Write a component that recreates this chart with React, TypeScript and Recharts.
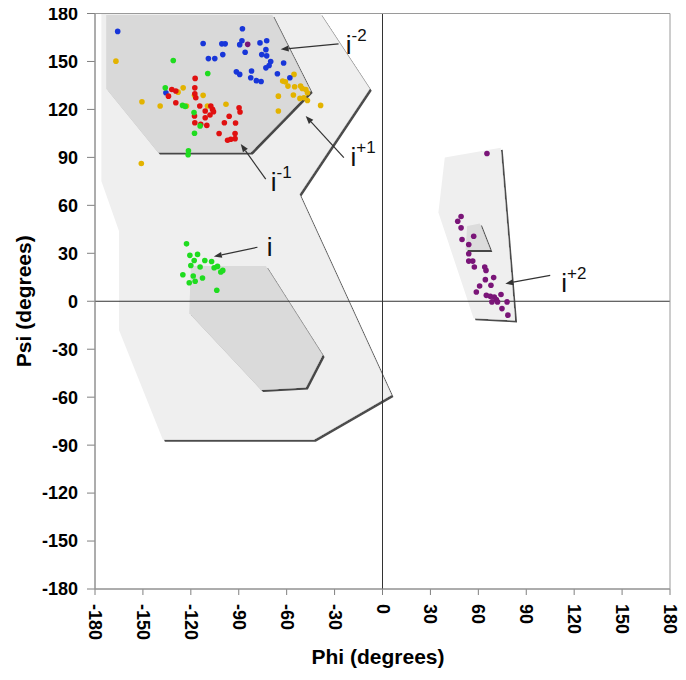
import React from 'react';
import { ScatterChart, Scatter, XAxis, YAxis, ReferenceLine, ReferenceArea, ReferenceDot, Label } from 'recharts';

// ---------- axis ticks ----------
const phiTicks = [-180, -150, -120, -90, -60, -30, 0, 30, 60, 90, 120, 150, 180];
const psiTicks = [-180, -150, -120, -90, -60, -30, 0, 30, 60, 90, 120, 150, 180];

// ---------- allowed regions (phi, psi vertices) ----------
const regionLightLeft = [[-176, 180], [-39, 180], [-8, 133], [-52, 67], [5.6, -58.6], [-43, -86.6], [-137.5, -86.6], [-165, -18], [-165, 44], [-176, 75]];
const regionLightRight = [[39, 90], [74, 96], [83, -12], [57, -10.6], [35, 55.5]];
const regionDarkBeta = [[-173, 179], [-69, 179], [-45, 131.5], [-82.5, 93], [-140.6, 93], [-173, 133]];
const regionDarkAlpha = [[-120, 22], [-73, 22], [-37.5, -33.6], [-48, -54], [-76, -55.5], [-121, -7.5]];
const regionDarkLeftHanded = [[53, 47], [61, 48.6], [67.5, 32], [52, 32]];

// ---------- residue points (phi, psi) ----------
const residueMinus2 = [[-165.8, 168.8], [-112.3, 161.2], [-100.6, 161], [-98.5, 161], [-87.7, 170.5], [-89.4, 160.5], [-88, 163], [-76.7, 161.6], [-72.5, 163], [-86, 155.8], [-75.6, 154.3], [-73, 157.4], [-72.5, 153.5], [-109, 151.8], [-105, 151.8], [-100, 154.3], [-70, 150], [-71, 147.5], [-73, 146], [-61.9, 149], [-91.5, 143.5], [-89.4, 141.9], [-82, 144], [-82.5, 139.8], [-79, 138], [-76, 137.5], [-65.8, 142.3], [-58, 139.8], [-135.6, 130.4]];
const residueMinus1 = [[-117.3, 139.4], [-131.9, 132.5], [-129.4, 131.5], [-134, 128.3], [-129.4, 124.2], [-117.5, 133.5], [-117.5, 129.8], [-116.9, 127.3], [-114.4, 122.1], [-107.5, 122.1], [-106.4, 120], [-105.8, 118.5], [-111, 119], [-108, 116.5], [-111, 114.8], [-117.7, 115.9], [-117.5, 111.7], [-113.8, 110.7], [-110, 110], [-99, 111.7], [-96, 115.7], [-92, 111.5], [-89.8, 121], [-89.2, 118.4], [-102.3, 104.9], [-97, 100.7], [-95, 101.3], [-92.3, 101.7], [-92.3, 104.9]];
const residueI = [[-131, 150.6], [-109.4, 142.5], [-136, 133.5], [-125.2, 122.5], [-123.5, 121.9], [-118, 118], [-114.2, 109.7], [-117.7, 105.1], [-121.5, 94.1], [-121.7, 91.6], [-122.7, 35.9], [-120.6, 28.7], [-115.8, 29.3], [-117.9, 25.5], [-120, 22.4], [-114.2, 21.4], [-111.25, 25.5], [-107, 24.9], [-105.4, 21], [-103.3, 21.8], [-101.25, 18.3], [-100, 19.3], [-125, 16.6], [-118.5, 15.8], [-121, 11.6], [-117.3, 12.5], [-112.7, 14.5], [-103.75, 6.9]];
const residuePlus1 = [[-166.9, 150.2], [-150.6, 124.8], [-139.2, 122.1], [-128, 130.8], [-124.8, 133.5], [-117.7, 128.8], [-112.3, 128.8], [-122.7, 122.1], [-109.6, 122.1], [-98, 123.2], [-151, 86.2], [-65.2, 128.3], [-65.2, 119], [-62.5, 137.7], [-60.8, 137.3], [-55.4, 141.9], [-59.2, 134.6], [-55, 134.2], [-51.3, 134.6], [-50.2, 133.1], [-48, 132.5], [-47, 130.4], [-49.2, 127.3], [-55.8, 129], [-51.7, 126.9], [-47, 125.6], [-38.75, 122.5]];
const residuePlus2 = [[-84.4, 160.7], [65.4, 92.4], [49.2, 53], [47.1, 50], [49.2, 45.9], [49.8, 38.6], [57.1, 40.7], [54, 35.5], [54, 29.7], [54, 25.1], [56.5, 25.1], [57.5, 21.4], [64, 21.4], [64.8, 19.3], [64.4, 13.5], [69.6, 14.8], [60.8, 9.5], [67.9, 10], [58.75, 5.8], [65, 3.7], [67.5, 3.1], [70, 2.7], [71.25, 1.1], [74.2, 4.2], [68.5, -0.4], [72, -0.4], [78, -0.4], [74.8, -4.6], [78.5, -8.7]];

// ---------- annotations ----------
const annotationSups = ['-2', '+1', '-1', '', '+2'];
const annotationTextPos = [[-23, 154.5], [-20, 84.7], [-70, 69], [-72.5, 28], [111.9, 5.8]];
const annotationArrowFrom = [[-27.5, 161], [-24.2, 89.9], [-73.1, 76.4], [-78.3, 33.8], [105, 16.2]];
const annotationArrowTo = [[-63.75, 157.6], [-48.1, 115.9], [-88.75, 98.3], [-105.6, 28], [76.9, 11]];

const FONT = '"Liberation Sans", Arial, Helvetica, sans-serif';

const toPts = (arr: number[][]) => arr.map(([x, y]) => ({ x, y }));

const makePolygon = (fill: string, withDefs = false) => (props: any) => {
  const pts = (props && props.points) || [];
  const d = pts.map((p: any) => `${p.x},${p.y}`).join(' ');
  return (
    <g>
      {withDefs && (
        <defs>
          <filter id="regionShadow" x="-10%" y="-10%" width="130%" height="130%">
            <feDropShadow dx="2" dy="2" stdDeviation="0.45" floodColor="#000" floodOpacity="0.7" />
          </filter>
        </defs>
      )}
      <polygon points={d} fill={fill} stroke="none" filter="url(#regionShadow)" />
    </g>
  );
};

const noShape = () => <g />;

const makeDot = (color: string) => (p: any) => <circle cx={p.cx} cy={p.cy} r={2.8} fill={color} />;

const XTick = (props: any) => {
  const { x, y, payload } = props;
  return (
    <text transform={`translate(${x},${y}) rotate(90)`} textAnchor="start" dominantBaseline="central"
      fontFamily={FONT} fontWeight="bold" fontSize={18} fill="#000">
      {payload.value}
    </text>
  );
};

const Arrow = (p: any) => {
  const { x1, y1, x2, y2 } = p;
  if ([x1, y1, x2, y2].some((v) => typeof v !== 'number' || isNaN(v))) return <g />;
  const ang = Math.atan2(y2 - y1, x2 - x1);
  const L = 8, W = 3;
  const bx = x2 - L * Math.cos(ang), by = y2 - L * Math.sin(ang);
  const px = -Math.sin(ang) * W, py = Math.cos(ang) * W;
  return (
    <g>
      <line x1={x1} y1={y1} x2={bx} y2={by} stroke="#333" strokeWidth={1.2} />
      <polygon points={`${x2},${y2} ${bx + px},${by + py} ${bx - px},${by - py}`} fill="#333" />
    </g>
  );
};

const makeAnnText = (sup: string) => (p: any) => (
  <text x={p.cx} y={p.cy} fontFamily={FONT} fontSize={26} fill="#111">
    i{sup && <tspan fontSize={17} dy={-13}>{sup}</tspan>}
  </text>
);

const regions = [
  { data: regionLightLeft, fill: '#efefef' },
  { data: regionLightRight, fill: '#efefef' },
  { data: regionDarkBeta, fill: '#d9d9d9' },
  { data: regionDarkAlpha, fill: '#dadada' },
  { data: regionDarkLeftHanded, fill: '#dcdcdc' },
];

const residues = [
  { data: residuePlus1, color: '#e3b300' },
  { data: residueMinus2, color: '#1836d9' },
  { data: residueMinus1, color: '#e01010' },
  { data: residueI, color: '#1fdc1f' },
  { data: residuePlus2, color: '#7a1578' },
];

export default function App() {
  return (
    <div style={{ margin: '-8px 0 0 -8px', width: 686, height: 680 }}>
      <ScatterChart width={686} height={680} margin={{ top: 13.5, right: 16, bottom: 11, left: 0 }}>
        <XAxis type="number" dataKey="x" domain={[-180, 180]} ticks={phiTicks} allowDataOverflow
          height={80} tickSize={6} tickMargin={9} tick={<XTick />}
          axisLine={{ stroke: '#808080' }} tickLine={{ stroke: '#808080' }} interval={0}>
          <Label content={(props: any) => {
            const vb = props.viewBox || { x: 95, y: 589, width: 575, height: 80 };
            return (
              <text x={vb.x + vb.width / 2 - 4.5} y={vb.y + 75} textAnchor="middle" fontFamily={FONT}
                fontWeight="bold" fontSize={21} fill="#000">Phi (degrees)</text>
            );
          }} />
        </XAxis>
        <YAxis type="number" dataKey="y" domain={[-180, 180]} ticks={psiTicks} allowDataOverflow
          width={95} tickSize={8} tickMargin={9} interval={0}
          tick={{ fontFamily: FONT, fontWeight: 'bold', fontSize: 18, fill: '#000' }}
          axisLine={{ stroke: '#808080' }} tickLine={{ stroke: '#808080' }}>
          <Label content={(props: any) => {
            const vb = props.viewBox || { x: 0, y: 13.5, width: 95, height: 575.5 };
            const cx = vb.x + 23, cy = vb.y + vb.height / 2;
            return (
              <text transform={`translate(${cx},${cy}) rotate(-90)`} textAnchor="middle" dominantBaseline="central"
                fontFamily={FONT} fontWeight="bold" fontSize={21} fill="#000">Psi (degrees)</text>
            );
          }} />
        </YAxis>

        {regions.map((r, i) => (
          <Scatter key={'reg' + i} data={toPts(r.data)} shape={noShape} line={makePolygon(r.fill, i === 0)}
            lineType="joint" isAnimationActive={false} zIndex={100} />
        ))}

        <ReferenceLine x={0} stroke="#333" strokeWidth={1} zIndex={700} />
        <ReferenceLine y={0} stroke="#333" strokeWidth={1} zIndex={700} />

        {residues.map((r, i) => (
          <Scatter key={'res' + i} data={toPts(r.data)} shape={makeDot(r.color)} isAnimationActive={false} zIndex={800} />
        ))}

        {annotationArrowFrom.map((f, i) => (
          <ReferenceLine key={'arr' + i} segment={[{ x: f[0], y: f[1] }, { x: annotationArrowTo[i][0], y: annotationArrowTo[i][1] }]}
            shape={Arrow} zIndex={900} />
        ))}
        {annotationTextPos.map((t, i) => (
          <ReferenceDot key={'txt' + i} x={t[0]} y={t[1]} r={0} shape={makeAnnText(annotationSups[i])} zIndex={900} />
        ))}

        <ReferenceArea x1={-180} x2={180} y1={-180} y2={180} fill="none" fillOpacity={0} stroke="#9a9a9a" strokeWidth={1} zIndex={950} />
      </ScatterChart>
    </div>
  );
}
